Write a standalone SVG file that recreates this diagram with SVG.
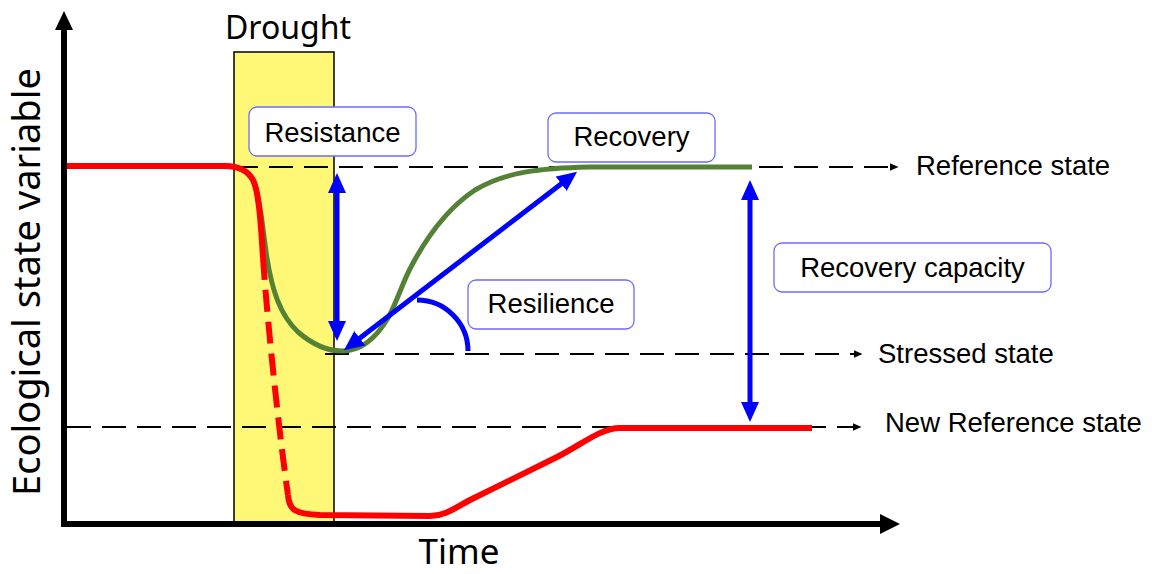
<svg xmlns="http://www.w3.org/2000/svg" width="1152" height="574" viewBox="0 0 1152 574">
<style>
.lbl{font-family:"Liberation Sans",Arial,sans-serif;font-size:27.5px;fill:#000}
.big{font-family:"Noto Sans","Open Sans",sans-serif;fill:#000}
.box{fill:#fff;stroke:#6b6bff;stroke-width:1.3}
.dash{fill:none;stroke:#000;stroke-width:2.2;stroke-dasharray:24 11}
.blue{fill:none;stroke:#0000ff;stroke-width:5}
</style>
<defs>
<marker id="bh" viewBox="0 0 20 18" refX="1" refY="9" markerWidth="20" markerHeight="18" markerUnits="userSpaceOnUse" orient="auto-start-reverse">
<path d="M0,0 L20,9 L0,18 z" fill="#0000ff"/>
</marker>
<marker id="kh" viewBox="0 0 9 8" refX="0.5" refY="4" markerWidth="9" markerHeight="8" markerUnits="userSpaceOnUse" orient="auto">
<path d="M0,0 L9,4 L0,8 z" fill="#000"/>
</marker>
</defs>
<rect width="1152" height="574" fill="#fff"/>
<g id="drought">
<rect x="234" y="52" width="100" height="472" fill="#fff876" stroke="#000" stroke-width="1.5"/>
<text class="big" x="288" y="39" font-size="32" text-anchor="middle">Drought</text>
</g>
<g id="connectors">
<path class="dash" d="M234,167 H890" marker-end="url(#kh)"/>
<path class="dash" d="M325,354 H854" marker-end="url(#kh)"/>
<path class="dash" d="M67,427 H853" marker-end="url(#kh)"/>
<path id="green-curve" d="M207,166 L222,166 C238,166 248,170 254,182 C260,195 262,225 267,258 C272,290 280,315 298,332 C312,344 328,351 342,351 C360,351 375,340 388,318 C398,300 402,283 412,265 C428,235 448,208 475,190 C505,172 540,168 590,167 L752,167" fill="none" stroke="#548235" stroke-width="5"/>
<path id="red-top" d="M65,166 L225,166 C238,166 248,171 253,180 C259,192 261,225 263,258" fill="none" stroke="#ff0000" stroke-width="6"/>
<path id="red-dashed" d="M263,258 C268,330 280,440 288,495" fill="none" stroke="#ff0000" stroke-width="6" stroke-dasharray="22 10"/>
<path id="red-bottom" d="M288,495 C289,510 295,514 320,515 L430,516 C445,516 455,508 470,500 L555,458 C580,446 600,428 620,428 L812,428" fill="none" stroke="#ff0000" stroke-width="6" stroke-linejoin="round"/>
<path class="blue" d="M337,192 V322" marker-start="url(#bh)" marker-end="url(#bh)"/>
<path class="blue" d="M359,338.8 L562,183.2" marker-start="url(#bh)" marker-end="url(#bh)"/>
<path class="blue" d="M750,199 V403" marker-start="url(#bh)" marker-end="url(#bh)"/>
<path class="blue" d="M417,300 A51,51 0 0 1 468,351"/>
</g>
<g id="resistance">
<rect class="box" x="249" y="107" width="167" height="49" rx="8"/>
<text class="lbl" x="332.5" y="142" text-anchor="middle">Resistance</text>
</g>
<g id="recovery">
<rect class="box" x="548" y="113" width="167" height="49" rx="8"/>
<text class="lbl" x="631.5" y="146" text-anchor="middle">Recovery</text>
</g>
<g id="resilience">
<rect class="box" x="468" y="280" width="166" height="49" rx="8"/>
<text class="lbl" x="551" y="313" text-anchor="middle">Resilience</text>
</g>
<g id="recovery-capacity">
<rect class="box" x="774" y="243" width="277" height="49" rx="8"/>
<text class="lbl" x="912.5" y="277" text-anchor="middle">Recovery capacity</text>
</g>
<g id="state-labels">
<text class="lbl" x="916" y="175">Reference state</text>
<text class="lbl" x="878" y="363">Stressed state</text>
<text class="lbl" x="885" y="432">New Reference state</text>
</g>
<g id="axes">
<path d="M64,527 V28" stroke="#000" stroke-width="6" fill="none"/>
<path d="M55,30 L64,11 L73,30 z" fill="#000"/>
<path d="M61,524 H882" stroke="#000" stroke-width="6" fill="none"/>
<path d="M880,514 L900,524 L880,534 z" fill="#000"/>
<text class="big" x="459" y="564" font-size="35" text-anchor="middle">Time</text>
<text class="big" transform="translate(40,282) rotate(-90)" font-size="38" text-anchor="middle">Ecological state variable</text>
</g>
</svg>
